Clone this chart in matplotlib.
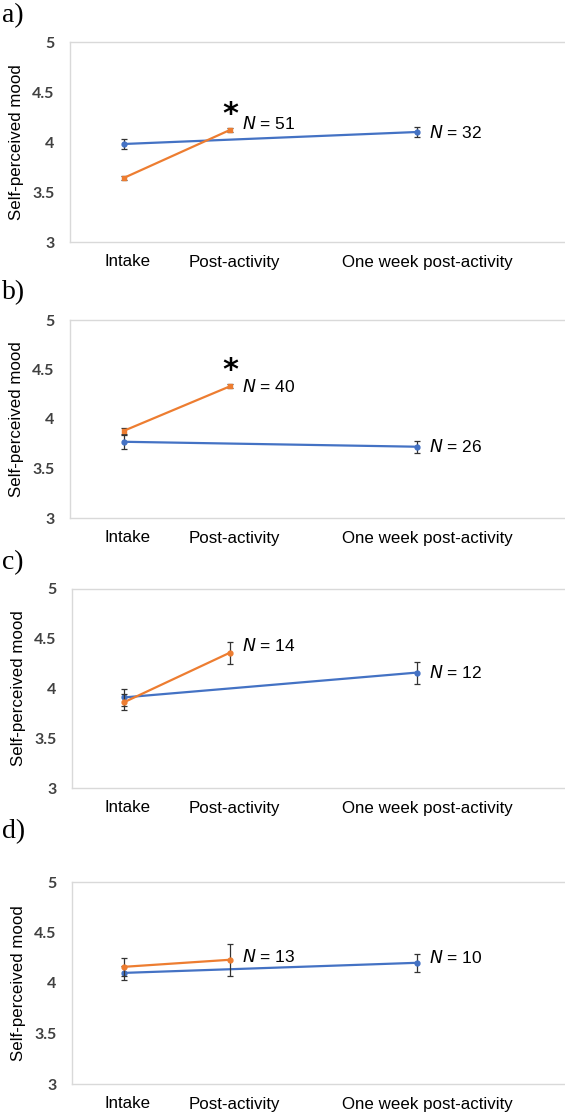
"""
Self-perceived mood at intake, post-activity and one week post-activity,
four panels (a-d). Orange = post-activity group, blue = one-week follow-up.
"""

import matplotlib

matplotlib.use("Agg")
import matplotlib.pyplot as plt

# -- data ------------------------------------------------------------------
panel_labels = ["a)", "b)", "c)", "d)"]
categories = ["Intake", "Post-activity", "One week post-activity"]

# orange series: intake -> post-activity
orange_mean = [[3.64, 4.12], [3.88, 4.33], [3.86, 4.36], [4.16, 4.23]]
orange_err = [[0.02, 0.02], [0.03, 0.02], [0.08, 0.11], [0.09, 0.16]]
orange_n = [51, 40, 14, 13]

# blue series: intake -> one week post-activity
blue_mean = [[3.98, 4.10], [3.77, 3.72], [3.91, 4.16], [4.10, 4.20]]
blue_err = [[0.05, 0.05], [0.07, 0.06], [0.09, 0.11], [0.07, 0.09]]
blue_n = [32, 26, 12, 10]

significant = [True, True, False, False]

yticks = [3, 3.5, 4, 4.5, 5]
ytick_labels = ["3", "3.5", "4", "4.5", "5"]

# -- layout ----------------------------------------------------------------
W, H = 565, 1113
CAT_X = [0, 1, 2.76]          # uneven spacing as in the original
TICK_X = [0.04, 1.04, 2.86]
# (top, bottom, left) of each plot frame, in pixels
FRAMES = [(42, 242, 70), (320, 518, 70), (589, 788, 72), (882, 1084, 72)]
LABEL_Y = [16, 293, 563, 832]
POST_LIFT = [5, 0, 5, 2]      # vertical nudge of the N labels (points)
WEEK_LIFT = [0, 0, 0, 4]

BLUE = "#4472C4"
ORANGE = "#ED7D31"
FRAME = "#d9d9d9"

fig = plt.figure(figsize=(W / 100, H / 100), dpi=100)

for i, (top, bottom, left) in enumerate(FRAMES):
    ax = fig.add_axes([left / W, 1 - bottom / H, 1.02 - left / W, (bottom - top) / H])

    x0 = CAT_X[0]
    xo = [CAT_X[0], CAT_X[1]]
    xb = [CAT_X[0], CAT_X[2]]

    ax.errorbar(xb, blue_mean[i], yerr=blue_err[i], color=BLUE, lw=1.6,
                marker="o", ms=3.5, ecolor="#333333", elinewidth=0.9,
                capsize=2, capthick=0.9, zorder=2)
    ax.errorbar(xo, orange_mean[i], yerr=orange_err[i], color=ORANGE, lw=1.6,
                marker="o" if i >= 2 else "s", ms=3.5, ecolor="#333333",
                elinewidth=0.9, capsize=2, capthick=0.9, zorder=3)

    ax.annotate(f"$\\it{{N}}$ = {orange_n[i]}", (xo[1], orange_mean[i][1]),
                xytext=(9, POST_LIFT[i]), textcoords="offset points",
                va="center", ha="left", fontsize=12.5, family="Liberation Sans")
    ax.annotate(f"$\\it{{N}}$ = {blue_n[i]}", (xb[1], blue_mean[i][1]),
                xytext=(9, WEEK_LIFT[i]), textcoords="offset points",
                va="center", ha="left", fontsize=12.5, family="Liberation Sans")
    if significant[i]:
        ax.annotate("*", (xo[1], orange_mean[i][1]), xytext=(0, 1),
                    textcoords="offset points", ha="center", va="bottom",
                    fontsize=22, fontweight="bold", family="DejaVu Sans")

    ax.set_ylim(3, 5)
    ax.set_xlim(x0 - (123 - left) / 105, x0 + (W - 123) / 105 + 0.05)
    ax.set_yticks(yticks)
    ax.set_yticklabels(ytick_labels, fontsize=11.5, color="#404040",
                       family="Lato", fontweight="bold")
    ax.set_xticks(TICK_X)
    ax.set_xticklabels(categories, fontsize=12.2, family="Liberation Sans")
    ax.tick_params(length=0, axis="y", pad=11)
    ax.tick_params(length=0, axis="x", pad=9)
    for s in ax.spines.values():
        s.set_color(FRAME)
        s.set_linewidth(1.0)
    ax.set_ylabel("Self-perceived mood", fontsize=12.2, family="Liberation Sans",
                  labelpad=6)

    fig.text(2 / W, 1 - LABEL_Y[i] / H, panel_labels[i], fontsize=20,
             family="Liberation Serif", va="center", ha="left")

fig.savefig("out.png", dpi=100)
